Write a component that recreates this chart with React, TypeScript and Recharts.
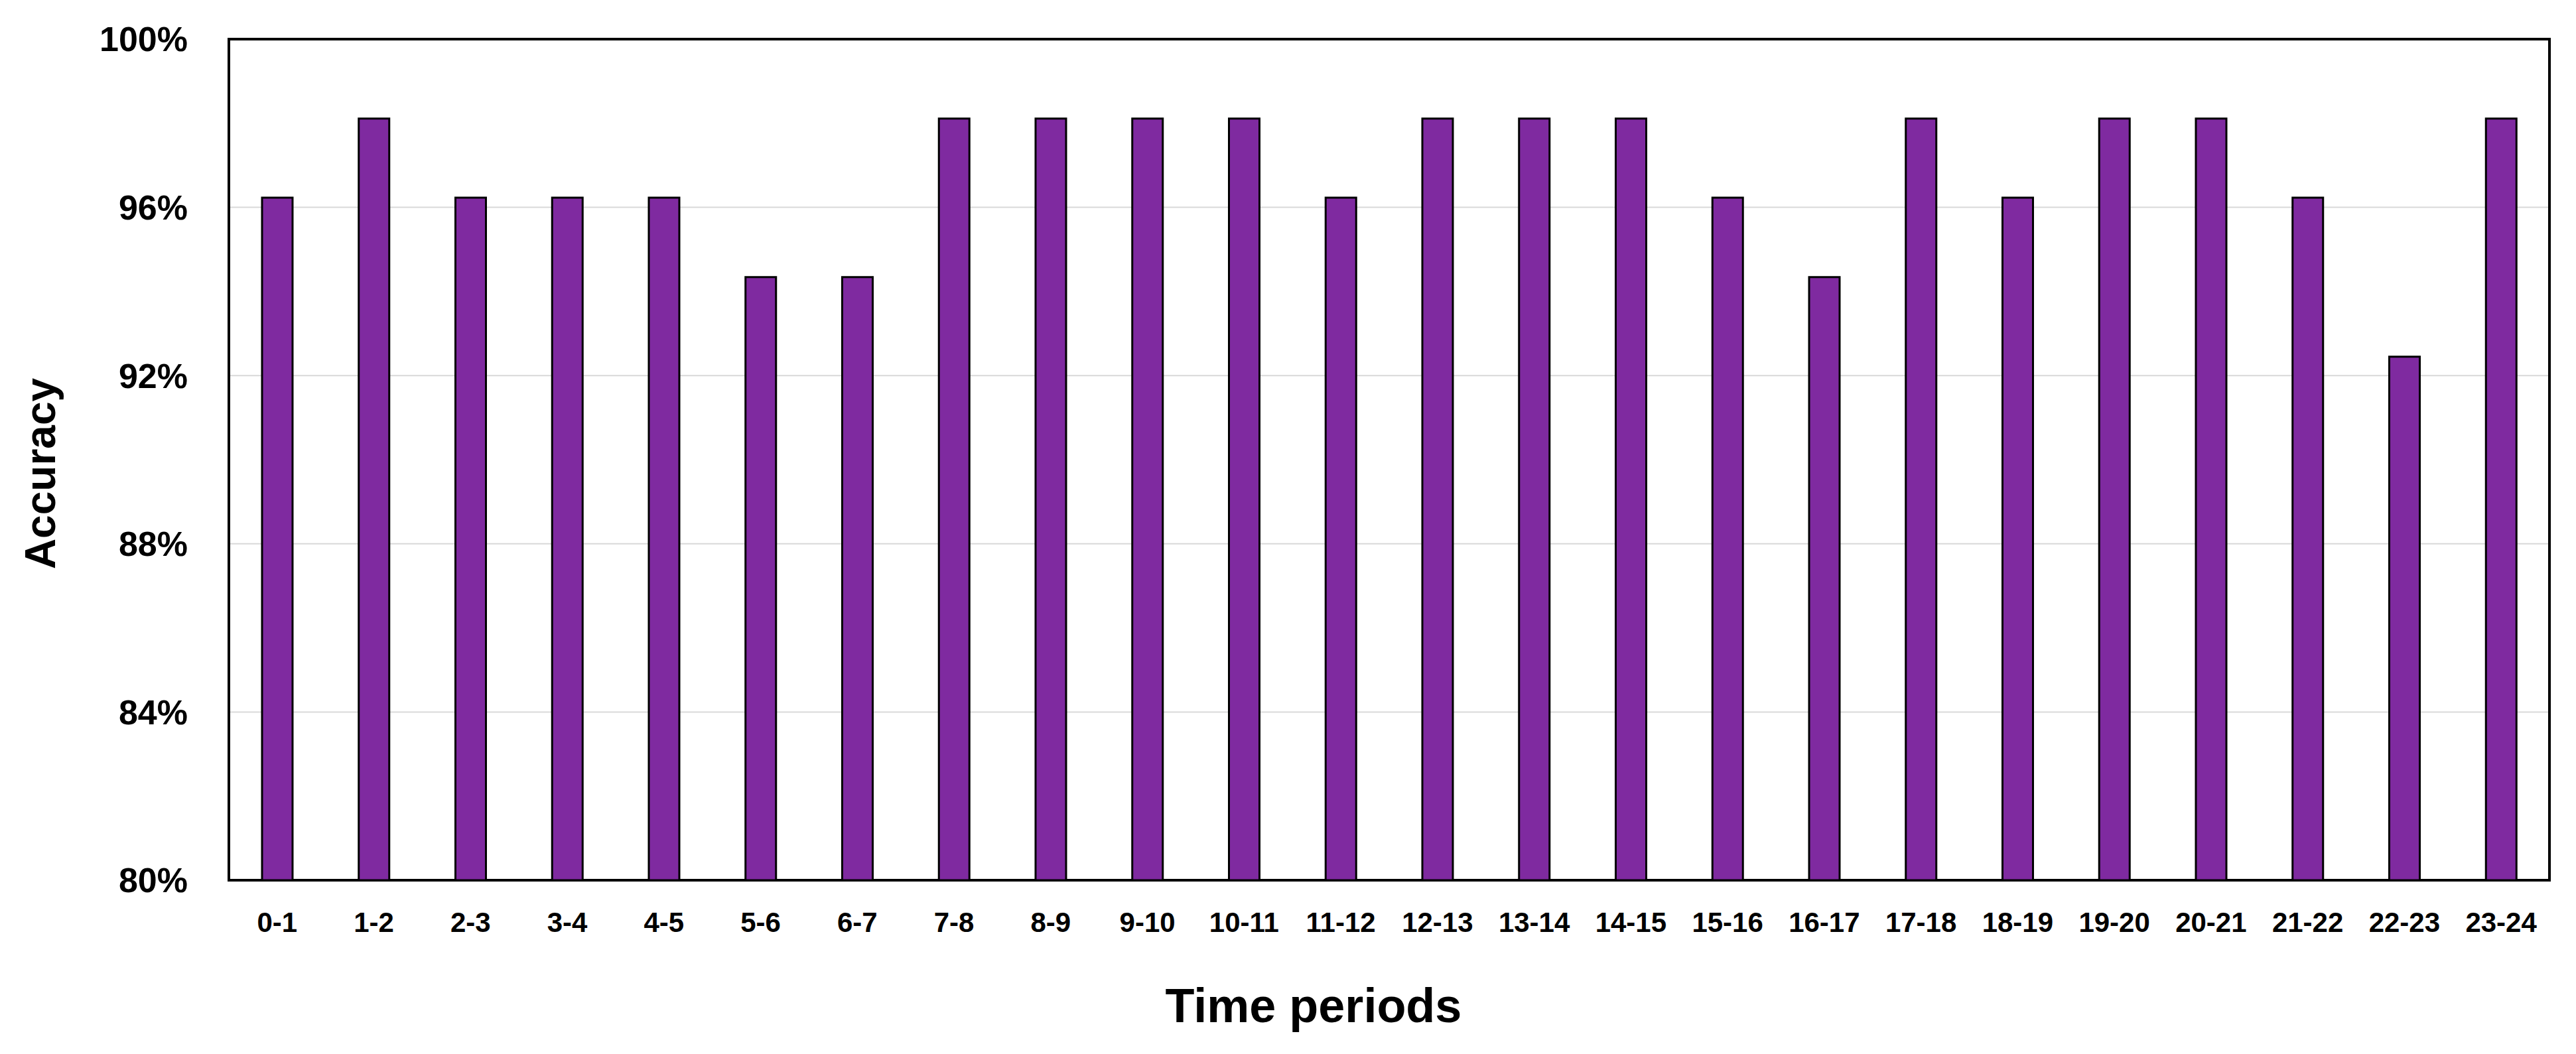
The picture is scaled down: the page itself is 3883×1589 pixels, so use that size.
import React from 'react';
import { BarChart, Bar, XAxis, YAxis, CartesianGrid, ReferenceArea, Label } from 'recharts';

// hourly slots
const periods = [
  '0-1', '1-2', '2-3', '3-4', '4-5', '5-6', '6-7', '7-8', '8-9', '9-10', '10-11', '11-12',
  '12-13', '13-14', '14-15', '15-16', '16-17', '17-18', '18-19', '19-20', '20-21', '21-22', '22-23', '23-24',
];

// accuracy in %
const accuracy = [
  96.23, 98.11, 96.23, 96.23, 96.23, 94.34, 94.34, 98.11, 98.11, 98.11, 98.11, 96.23,
  98.11, 98.11, 98.11, 96.23, 94.34, 98.11, 96.23, 98.11, 98.11, 96.23, 92.45, 98.11,
];

const yTicks = [80, 84, 88, 92, 96, 100];

const FONT = '"Liberation Sans", Arial, sans-serif';
const PURPLE = '#7F2AA0';

const data = periods.map((p, i) => ({ period: p, accuracy: accuracy[i] }));

function YTitle(props: any) {
  const vb = props.viewBox;
  const cx = vb.x + 61;
  const cy = vb.y + vb.height / 2 + 21;
  return (
    <text
      x={cx}
      y={cy}
      transform={`rotate(-90, ${cx}, ${cy})`}
      textAnchor="middle"
      dominantBaseline="central"
      fontFamily={FONT}
      fontWeight="bold"
      fontSize={64}
      fill="#000"
    >
      Accuracy
    </text>
  );
}

function XTitle(props: any) {
  const vb = props.viewBox;
  return (
    <text
      x={vb.x + vb.width / 2 - 114}
      y={vb.y + 214}
      textAnchor="middle"
      fontFamily={FONT}
      fontWeight="bold"
      fontSize={72}
      fill="#000"
    >
      Time periods
    </text>
  );
}

export default function App() {
  return (
    <div style={{ position: 'absolute', left: 0, top: 0, background: '#fff' }}>
      <BarChart
        width={3883}
        height={1589}
        data={data}
        margin={{ top: 59, right: 40, bottom: 0, left: 0 }}
        barSize={46}
      >
        <CartesianGrid vertical={false} stroke="#D9D9D9" strokeWidth={2} />
        <XAxis
          dataKey="period"
          height={262}
          interval={0}
          axisLine={false}
          tickLine={false}
          tickSize={0}
          tickMargin={48}
          tick={{ fill: '#000', fontFamily: FONT, fontWeight: 'bold', fontSize: 42 }}
        >
          <Label content={XTitle} />
        </XAxis>
        <YAxis
          width={345}
          domain={[80, 100]}
          ticks={yTicks}
          allowDataOverflow
          axisLine={false}
          tickLine={false}
          tickSize={0}
          tickMargin={62}
          tickFormatter={(v: number) => `${v}%`}
          tick={{ fill: '#000', fontFamily: FONT, fontWeight: 'bold', fontSize: 52 }}
        >
          <Label content={YTitle} />
        </YAxis>
        <Bar dataKey="accuracy" fill={PURPLE} stroke="#000" strokeWidth={3} isAnimationActive={false} />
        <ReferenceArea y1={80} y2={100} fill="none" stroke="#000" strokeWidth={4} ifOverflow="visible" />
      </BarChart>
    </div>
  );
}
